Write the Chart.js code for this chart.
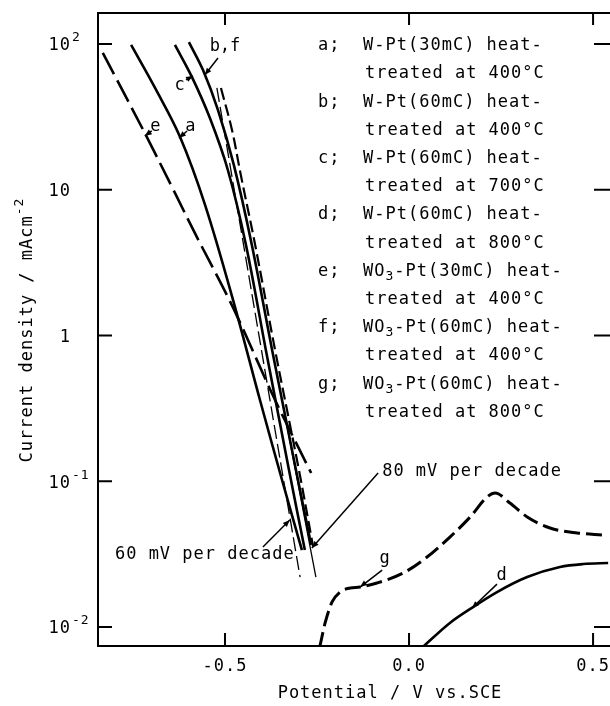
<!DOCTYPE html>
<html>
<head>
<meta charset="utf-8">
<script src="https://cdn.jsdelivr.net/npm/chart.js@4.4.0/dist/chart.umd.min.js"></script>
<style>
  html, body { margin: 0; padding: 0; background: #fff; }
  #wrap { width: 610px; height: 706px; }
</style>
</head>
<body>
<div id="wrap"><canvas id="chart" width="610" height="706"></canvas></div>
<script>
// Tafel plots: current density (log) vs potential for W-Pt / WO3-Pt electrodes

// axes
const X_MIN = -0.845, X_MAX = 0.546;
const Y_MIN = 0.00741, Y_MAX = 163;
const X_TICKS = [-0.5, 0.0, 0.5];
const X_TICK_LABELS = ['-0.5', '0.0', '0.5'];
const Y_TICKS = [100, 10, 1, 0.1, 0.01];
const Y_TICK_BASES = ['10', '10', '1', '10', '10'];
const Y_TICK_EXPS = ['2', '', '', '-1', '-2'];

// curves : potential (V vs SCE) / current density (mA cm-2)
const A_E = [-0.755, -0.690, -0.622, -0.554, -0.478, -0.405, -0.345, -0.291];
const A_I = [98.4, 49.9, 23.0, 7.85, 1.75, 0.361, 0.102, 0.0337];
const B_E = [-0.598, -0.560, -0.519, -0.476, -0.427, -0.372, -0.307, -0.266];
const B_I = [103, 66.4, 35.2, 14.8, 4.18, 0.796, 0.119, 0.0366];
const C_E = [-0.636, -0.590, -0.541, -0.492, -0.443, -0.389, -0.326, -0.283];
const C_I = [98.4, 59.4, 31.0, 13.6, 4.18, 0.796, 0.119, 0.0337];
const D_E = [0.035, 0.111, 0.174, 0.239, 0.321, 0.410, 0.473, 0.541];
const D_I = [0.0072, 0.01067, 0.01371, 0.01738, 0.02203, 0.02582, 0.02704, 0.02746];
const E_E = [-0.832, -0.718, -0.636, -0.582, -0.478, -0.364, -0.266];
const E_I = [86.7, 24.5, 9.5, 5.05, 1.55, 0.361, 0.114];
const F_E = [-0.511, -0.481, -0.457, -0.418, -0.364, -0.299, -0.261];
const F_I = [49.9, 25.7, 12.6, 4.18, 0.796, 0.119, 0.0360];
const G_E = [-0.243, -0.228, -0.209, -0.1875, -0.160, -0.133, -0.087, -0.016, 0.049, 0.111, 0.166, 0.212, 0.234, 0.274, 0.321, 0.383, 0.457, 0.527];
const G_I = [0.0072, 0.01066, 0.01486, 0.01738, 0.01852, 0.0188, 0.02004, 0.02345, 0.0302, 0.0414, 0.0568, 0.0780, 0.0830, 0.0710, 0.0569, 0.0478, 0.0442, 0.0428];
const REF60_E = [-0.522, -0.296];
const REF60_I = [49.9, 0.0220];
const REF80_E = [-0.345, -0.253];
const REF80_I = [0.360, 0.0220];

// legend block
const LEGEND_KEYS = ['a', 'b', 'c', 'd', 'e', 'f', 'g'];
const LEGEND_SAMPLES = ['W-Pt(30mC)', 'W-Pt(60mC)', 'W-Pt(60mC)', 'W-Pt(60mC)', 'WO3-Pt(30mC)', 'WO3-Pt(60mC)', 'WO3-Pt(60mC)'];
const LEGEND_TEMPS = ['400°C', '400°C', '700°C', '800°C', '400°C', '400°C', '800°C'];
const LEGEND_KEY_E = -0.247, LEGEND_TEXT_E = -0.125, LEGEND_TOP_I = 97;

// curve labels and arrows
const LABEL_TEXT = ['a', 'b,f', 'c', 'd', 'e', 'g'];
const LABEL_E = [-0.593, -0.500, -0.622, 0.253, -0.688, -0.065];
const LABEL_I = [27.0, 95.3, 51.5, 0.0224, 27.0, 0.0293];
const ARROW_FROM_E = [-0.603, -0.519, -0.606, 0.239, -0.699, -0.073, -0.397, -0.084];
const ARROW_FROM_I = [25.3, 80.1, 56.6, 0.0197, 25.3, 0.0246, 0.0354, 0.114];
const ARROW_TO_E = [-0.625, -0.555, -0.587, 0.171, -0.718, -0.133, -0.324, -0.264];
const ARROW_TO_I = [22.6, 61.2, 60.3, 0.0135, 23.4, 0.0188, 0.0542, 0.0348];
const NOTE_TEXT = ['60 mV per decade', '80 mV per decade'];
const NOTE_E = [-0.799, -0.073];
const NOTE_I = [0.0312, 0.1156];

const INK = '#000';
const FONT = '17px "DejaVu Sans Mono"';
const SMALL = '13px "DejaVu Sans Mono"';

const pts = (E, I) => E.map((v, i) => ({ x: v, y: I[i] }));

function curve(E, I, width, dash, monotone) {
  return {
    data: pts(E, I),
    borderColor: INK,
    borderWidth: width,
    borderDash: dash || [],
    pointRadius: 0,
    fill: false,
    tension: 0.35,
    cubicInterpolationMode: monotone ? 'monotone' : 'default',
  };
}

// text with sub/superscripts : parts = [[text, kind]], kind 1 = sup, -1 = sub
function drawRich(ctx, parts, x, y, align) {
  let w = 0;
  parts.forEach(([t, k]) => { ctx.font = k ? SMALL : FONT; w += ctx.measureText(t).width; });
  let cx = align === 'right' ? x - w : align === 'center' ? x - w / 2 : x;
  ctx.textAlign = 'left';
  parts.forEach(([t, k]) => {
    ctx.font = k ? SMALL : FONT;
    ctx.fillText(t, cx, y + (k === 1 ? -8 : k === -1 ? 5 : 0));
    cx += ctx.measureText(t).width;
  });
}

function richParts(s) {
  // WO3 -> subscript 3
  const i = s.indexOf('WO3');
  if (i < 0) return [[s, 0]];
  return [[s.slice(0, i) + 'WO', 0], ['3', -1], [s.slice(i + 3), 0]];
}

function arrow(ctx, x1, y1, x2, y2) {
  ctx.beginPath(); ctx.moveTo(x1, y1); ctx.lineTo(x2, y2); ctx.stroke();
  const a = Math.atan2(y2 - y1, x2 - x1), L = 7, W = 2.8;
  ctx.beginPath();
  ctx.moveTo(x2, y2);
  ctx.lineTo(x2 - L * Math.cos(a) + W * Math.sin(a), y2 - L * Math.sin(a) - W * Math.cos(a));
  ctx.lineTo(x2 - L * Math.cos(a) - W * Math.sin(a), y2 - L * Math.sin(a) + W * Math.cos(a));
  ctx.closePath(); ctx.fill();
}

const framePlugin = {
  id: 'frame',
  afterDraw(chart) {
    const { ctx, chartArea: ca, scales: { x, y } } = chart;
    ctx.save();
    ctx.strokeStyle = INK;
    ctx.fillStyle = INK;
    ctx.letterSpacing = '1px';
    ctx.textBaseline = 'middle';

    // frame (no right edge visible)
    ctx.lineWidth = 2;
    ctx.beginPath();
    ctx.moveTo(ca.right, ca.top); ctx.lineTo(ca.left, ca.top);
    ctx.lineTo(ca.left, ca.bottom); ctx.lineTo(ca.right, ca.bottom);
    ctx.stroke();

    // inward ticks
    ctx.beginPath();
    X_TICKS.forEach(v => {
      const px = x.getPixelForValue(v);
      ctx.moveTo(px, ca.bottom); ctx.lineTo(px, ca.bottom - 13);
      ctx.moveTo(px, ca.top); ctx.lineTo(px, ca.top + 12);
    });
    Y_TICKS.forEach(v => {
      const py = y.getPixelForValue(v);
      ctx.moveTo(ca.left, py); ctx.lineTo(ca.left + 14, py);
      ctx.moveTo(ca.right, py); ctx.lineTo(ca.right - 16, py);
    });
    ctx.stroke();

    // tick labels
    X_TICKS.forEach((v, i) => {
      drawRich(ctx, [[X_TICK_LABELS[i], 0]], x.getPixelForValue(v), ca.bottom + 21, 'center');
    });
    Y_TICKS.forEach((v, i) => {
      const py = y.getPixelForValue(v) + 2;
      drawRich(ctx, [[Y_TICK_BASES[i], 0]], 71, py, 'right');
      if (Y_TICK_EXPS[i]) drawRich(ctx, [[Y_TICK_EXPS[i], 1]], 72, py, 'left');
    });

    // axis titles
    drawRich(ctx, [['Potential / V vs.SCE', 0]], 390, 694, 'center');
    ctx.save();
    ctx.translate(28, 330);
    ctx.rotate(-Math.PI / 2);
    drawRich(ctx, [['Current density / mAcm', 0], ['-2', 1]], 0, 0, 'center');
    ctx.restore();

    // legend block
    const ky = y.getPixelForValue(LEGEND_TOP_I);
    const kx = x.getPixelForValue(LEGEND_KEY_E);
    const tx = x.getPixelForValue(LEGEND_TEXT_E);
    LEGEND_KEYS.forEach((k, i) => {
      const r1 = ky + (2 * i) * 28.2, r2 = ky + (2 * i + 1) * 28.2;
      drawRich(ctx, [[k + ';', 0]], kx, r1, 'left');
      drawRich(ctx, richParts(LEGEND_SAMPLES[i] + ' heat-'), tx, r1, 'left');
      drawRich(ctx, [['treated at ' + LEGEND_TEMPS[i], 0]], tx + 2, r2, 'left');
    });

    // curve labels
    LABEL_TEXT.forEach((t, i) => {
      ctx.letterSpacing = t.length > 1 ? '0px' : '1px';
      drawRich(ctx, [[t, 0]], x.getPixelForValue(LABEL_E[i]), y.getPixelForValue(LABEL_I[i]), 'center');
    });
    ctx.letterSpacing = '1px';
    NOTE_TEXT.forEach((t, i) => {
      drawRich(ctx, [[t, 0]], x.getPixelForValue(NOTE_E[i]), y.getPixelForValue(NOTE_I[i]), 'left');
    });

    // arrows
    ctx.lineWidth = 1.5;
    ARROW_FROM_E.forEach((e, i) => {
      arrow(ctx,
        x.getPixelForValue(e), y.getPixelForValue(ARROW_FROM_I[i]),
        x.getPixelForValue(ARROW_TO_E[i]), y.getPixelForValue(ARROW_TO_I[i]));
    });
    ctx.restore();
  },
};

new Chart(document.getElementById('chart'), {
  type: 'line',
  data: {
    datasets: [
      curve(A_E, A_I, 2.6),
      curve(B_E, B_I, 2.6),
      curve(C_E, C_I, 2.6),
      curve(D_E, D_I, 2.6, null, true),
      curve(E_E, E_I, 2.6, [24, 7]),
      curve(F_E, F_I, 2.2, [12, 5]),
      curve(G_E, G_I, 3, [16, 6], true),
      curve(REF60_E, REF60_I, 1.3, [14, 5]),
      curve(REF80_E, REF80_I, 1.3),
    ],
  },
  options: {
    responsive: false,
    animation: false,
    parsing: false,
    layout: { padding: { left: 98, top: 13, right: 0, bottom: 60 } },
    plugins: { legend: { display: false }, tooltip: { enabled: false } },
    scales: {
      x: { type: 'linear', display: false, min: X_MIN, max: X_MAX, bounds: 'data' },
      y: { type: 'logarithmic', display: false, min: Y_MIN, max: Y_MAX, bounds: 'data' },
    },
  },
  plugins: [framePlugin],
});
</script>
</body>
</html>
